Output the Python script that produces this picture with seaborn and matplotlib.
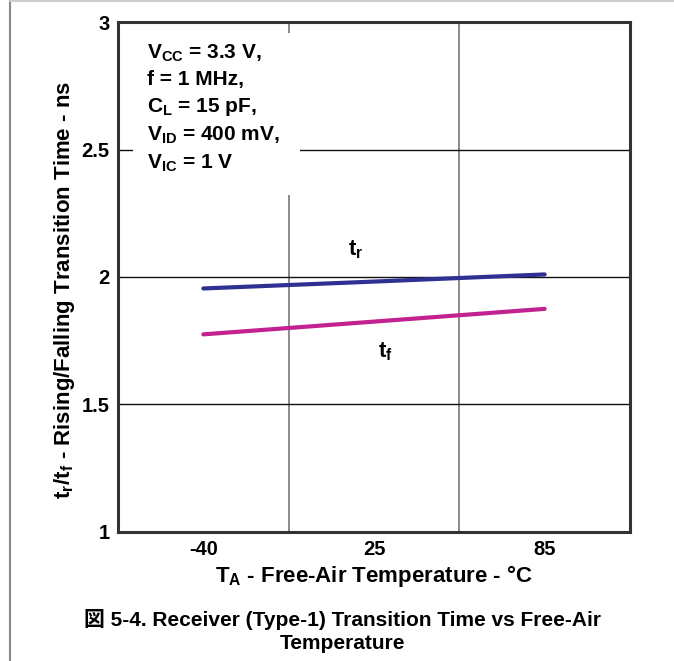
import matplotlib
matplotlib.use('Agg')
import matplotlib.pyplot as plt
import seaborn as sns
import pandas as pd
from matplotlib.lines import Line2D
from matplotlib.patches import Rectangle

# Data
temps = [-40, 25, 85]
t_rise = [1.955, 1.982, 2.01]
t_fall = [1.775, 1.825, 1.875]
y_ticks = [1, 1.5, 2, 2.5, 3]
conditions = [r'V$_{CC}$ = 3.3 V,', 'f = 1 MHz,', r'C$_{L}$ = 15 pF,',
              r'V$_{ID}$ = 400 mV,', r'V$_{IC}$ = 1 V']

sns.set_style('white')
plt.rcParams['font.family'] = ['Liberation Sans', 'Noto Sans CJK JP', 'DejaVu Sans']
plt.rcParams['font.weight'] = 'bold'
plt.rcParams['text.color'] = 'black'
plt.rcParams['axes.labelcolor'] = 'black'
plt.rcParams['xtick.color'] = 'black'
plt.rcParams['ytick.color'] = 'black'
plt.rcParams['mathtext.fontset'] = 'custom'
plt.rcParams['mathtext.rm'] = 'Liberation Sans:bold'
plt.rcParams['mathtext.it'] = 'Liberation Sans:bold'
plt.rcParams['mathtext.bf'] = 'Liberation Sans:bold'

pos = list(range(len(temps)))
df = pd.DataFrame({'pos': pos * 2,
                   'val': t_rise + t_fall,
                   'series': ['tr'] * len(pos) + ['tf'] * len(pos)})

fig = plt.figure(figsize=(6.74, 6.61), dpi=100)
ax = fig.add_axes([0.1751, 0.1952, 0.7596, 0.7715])

sns.lineplot(data=df, x='pos', y='val', hue='series',
             palette={'tr': '#2e3192', 'tf': '#c2228f'},
             linewidth=3, legend=False, ax=ax, zorder=5)

ax.set_xlim(-0.5, len(temps) - 0.5)
ax.set_ylim(y_ticks[0], y_ticks[-1])
ax.set_xticks(pos)
ax.set_xticklabels([str(t) for t in temps])
ax.set_xticks([p + 0.5 for p in pos[:-1]], minor=True)
ax.set_yticks(y_ticks)
ax.set_yticklabels(['1', '1.5', '2', '2.5', '3'])
ax.tick_params(axis='both', which='both', length=0, labelsize=14.5, pad=6,
               labelcolor='black')
for lab in ax.get_xticklabels() + ax.get_yticklabels():
    lab.set_fontweight('bold')

# grid
ax.grid(False)
ax.xaxis.grid(True, which='minor', color='#777777', linewidth=1.2)
ax.yaxis.grid(True, which='major', color='#111111', linewidth=1.0)
ax.set_axisbelow(True)

for sp in ax.spines.values():
    sp.set_visible(True)
    sp.set_color('#333333')
    sp.set_linewidth(2.2)

ax.set_xlabel(r'T$_{A}$ - Free-Air Temperature - °C', fontsize=16,
              fontweight='bold', labelpad=3)
ax.set_ylabel(r't$_{r}$/t$_{f}$ - Rising/Falling Transition Time - ns',
              fontsize=16, fontweight='bold')
ax.yaxis.set_label_coords(-0.08, 0.475)

# conditions box
ax.add_patch(Rectangle((0.029, 0.661), 0.326, 0.317, transform=ax.transAxes,
                       facecolor='white', edgecolor='none', zorder=2))
ax.text(0.057, 0.96, '\n'.join(conditions), transform=ax.transAxes,
        fontsize=15, fontweight='bold', va='top', ha='left',
        linespacing=1.42, zorder=3)

# curve labels
ax.text(0.89, 2.106, r't$_{r}$', fontsize=16, fontweight='bold',
        ha='center', va='center', zorder=6)
ax.text(1.064, 1.706, r't$_{f}$', fontsize=16, fontweight='bold',
        ha='center', va='center', zorder=6)

# caption
fig.text(0.508, 0.045, '図 5-4. Receiver (Type-1) Transition Time vs Free-Air\nTemperature',
         ha='center', va='center', fontsize=15, fontweight='bold',
         linespacing=1.25)

# page border lines
fig.add_artist(Line2D([0.015, 0.015], [0, 1], color='#888888', linewidth=1.5))
fig.add_artist(Line2D([0.015, 1], [0.998, 0.998], color='#cccccc', linewidth=1.5))

fig.savefig('out.png', dpi=100)
